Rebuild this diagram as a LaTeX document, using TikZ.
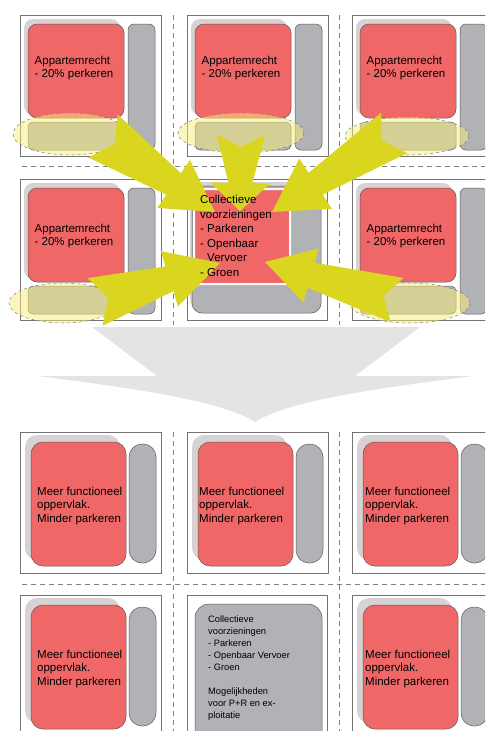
\documentclass[tikz,border=0pt]{standalone}
\usepackage{fontspec}
\setmainfont{Liberation Sans}
\usetikzlibrary{calc}

\definecolor{flatred}{RGB}{240,103,104}
\definecolor{stripgrey}{RGB}{177,178,181}
\definecolor{shadegrey}{RGB}{217,210,212}
\definecolor{zoneyellow}{RGB}{248,238,120}
\definecolor{arrowyellow}{RGB}{218,214,31}
\definecolor{bigarrow}{RGB}{228,228,228}
\definecolor{outline}{RGB}{95,90,90}

\tikzset{
    gridline/.style={gray, line width=0.6pt, dash pattern=on 5pt off 4pt},
    lotframe/.style={draw=gray!90!black, line width=0.6pt, fill=white},
    backdrop/.style={fill=shadegrey, rounded corners=9pt},
    house/.style={fill=flatred, draw=outline, line width=0.5pt, rounded corners=9pt},
    lane/.style={fill=stripgrey, draw=outline, line width=0.5pt, rounded corners=6pt},
    parkzone/.style={fill=zoneyellow, fill opacity=0.5, draw=gray, dashed, line width=0.5pt},
    yarrowfill/.style={fill=arrowyellow},
    blocktext/.style={font=\fontsize{11.5}{13.5}\selectfont, align=left, inner sep=0pt},
}

% tail, tip, tail half width, shaft half width, head half width, head length, notch
\newcommand{\yarrow}[7]{
    \coordinate (yh) at ($(#2)!#6pt!(#1)$);
    \fill[yarrowfill] ($(#1)!#3pt!90:(#2)$) -- ($(yh)!#4pt!90:(#2)$) -- ($(yh)!#5pt!90:(#2)$)
        -- (#2) -- ($(yh)!#5pt!-90:(#2)$) -- ($(yh)!#4pt!-90:(#2)$) -- ($(#1)!#3pt!-90:(#2)$)
        -- ($(#1)!#7pt!(#2)$) -- cycle;
}

\begin{document}
\begin{tikzpicture}[x=1pt, y=-1pt]
    \useasboundingbox (0,0) rectangle (485,731);
    \clip (0,0) rectangle (485,731);

    \draw[gridline] (22,166) -- (485,166);
    \draw[gridline] (173,15) -- (173,325);
    \draw[gridline] (339,15) -- (339,325);
    \draw[gridline] (22,584) -- (485,584);
    \draw[gridline] (173,432) -- (173,731);
    \draw[gridline] (339,432) -- (339,731);

    \fill[bigarrow] (92,327) -- (420,327) -- (355,376) -- (473,376)
        .. controls (380,388) and (290,400) .. (255,422)
        .. controls (220,400) and (130,388) .. (38,376) -- (157,376) -- cycle;

    % before
    \foreach \x/\y/\t/\n in {20/15/53/a, 187/15/53/b, 352/15/53/c, 20/179/57/d, 352/179/57/f}{
        \begin{scope}[shift={(\x,\y)}]
            \draw[lotframe] (0,0) rectangle (141,141);
            \fill[backdrop] (4,4) rectangle (100,100);
            \draw[house] (8,9) rectangle (104,103);
            \draw[lane] (108,9) rectangle (135,135);
            \draw[lane, rounded corners=5pt] (8,107) rectangle (104,135);
        \end{scope}
    }
    \begin{scope}[shift={(187,179)}]
        \draw[lotframe] (0,0) rectangle (140,141);
        \fill[backdrop] (3,3) rectangle (130,130);
        \draw[lane, rounded corners=10pt] (5,7) rectangle (134,134);
        \draw[house, draw=white, line width=2pt, rounded corners=3pt] (7,10) rectangle (103,105);
    \end{scope}

    \draw[parkzone] (70,134) ellipse [x radius=57, y radius=21];
    \draw[parkzone] (241,133) ellipse [x radius=63, y radius=20];
    \draw[parkzone] (407,136) ellipse [x radius=62, y radius=19];
    \draw[parkzone] (63,303) ellipse [x radius=54, y radius=20];
    \draw[parkzone] (410,303) ellipse [x radius=60, y radius=20];

    \coordinate (tailA) at (103,136);
    \coordinate (tipA) at (215,212);
    \coordinate (tailB) at (241,135);
    \coordinate (tipB) at (240,211);
    \coordinate (tailC) at (394,133);
    \coordinate (tipC) at (272,212);
    \coordinate (tailD) at (95,302);
    \coordinate (tipD) at (220,263);
    \coordinate (tailE) at (397,300);
    \coordinate (tipE) at (265,262);
    \yarrow{tailA}{tipA}{26}{13}{29}{50}{14}
    \yarrow{tailB}{tipB}{24}{12}{30}{28}{12}
    \yarrow{tailC}{tipC}{24}{13}{30}{52}{14}
    \yarrow{tailD}{tipD}{25}{13}{29}{53}{14}
    \yarrow{tailE}{tipE}{23}{13}{28}{48}{14}

    \foreach \x/\y/\t/\n in {20/15/53/a, 187/15/53/b, 352/15/53/c, 20/179/57/d, 352/179/57/f}{
        \node[blocktext] (app\n) at (\x+54,\y+\t) {Appartemrecht\\- 20\% perkeren};
    }
    \node[blocktext, anchor=west, font=\fontsize{11.5}{14.5}\selectfont] (hub) at (200,236)
        {Collectieve\\voorzieningen\\- Parkeren\\- Openbaar\\\phantom{- }Vervoer\\- Groen};

    % after
    \foreach \x/\y in {20/432, 187/432, 352/432, 20/595, 352/595}{
        \begin{scope}[shift={(\x,\y)}]
            \draw[lotframe] (0,0) rectangle (141,141);
            \fill[backdrop, rounded corners=12pt] (5,3) rectangle (100,128);
            \draw[house, rounded corners=12pt] (11,10) rectangle (106,134);
            \draw[lane, rounded corners=13pt] (109,12) rectangle (136,131);
        \end{scope}
    }
    \begin{scope}[shift={(187,595)}]
        \draw[lotframe] (0,0) rectangle (140,141);
        \draw[lane, rounded corners=14pt] (8,9) rectangle (135,160);
    \end{scope}

    \foreach \x/\y/\l/\n in {20/432/17/g, 187/432/12/h, 352/432/13/i, 20/595/17/j, 352/595/13/l}{
        \node[blocktext, anchor=west] (meer\n) at (\x+\l,\y+74) {Meer functioneel\\oppervlak.\\Minder parkeren};
    }
    \node[blocktext, anchor=west, font=\fontsize{9.3}{11.9}\selectfont] (hubnew) at (208,668)
        {Collectieve\\voorzieningen\\- Parkeren\\- Openbaar Vervoer\\- Groen\\[11.9pt]Mogelijkheden\\voor P+R en ex-\\ploitatie};
\end{tikzpicture}
\end{document}
